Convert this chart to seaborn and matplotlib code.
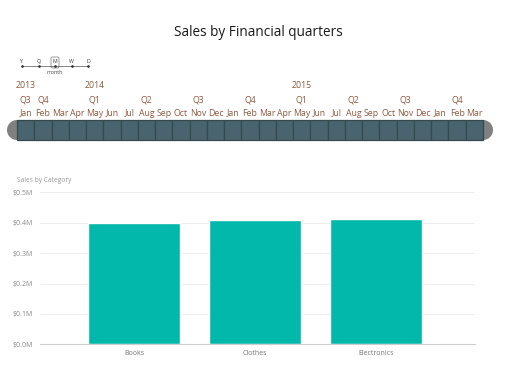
import pandas as pd
import seaborn as sns
import matplotlib.pyplot as plt
from matplotlib.patches import Rectangle, Ellipse, FancyBboxPatch

# Dados
categorias = ['Books', 'Clothes', 'Electronics']
vendas = [0.400, 0.410, 0.4125]  # em milhões
meses = ['Jan', 'Feb', 'Mar', 'Apr', 'May', 'Jun', 'Jul', 'Aug', 'Sep', 'Oct', 'Nov', 'Dec',
         'Jan', 'Feb', 'Mar', 'Apr', 'May', 'Jun', 'Jul', 'Aug', 'Sep', 'Oct', 'Nov', 'Dec',
         'Jan', 'Feb', 'Mar']
trimestres = ['Q3', 'Q4', 'Q1', 'Q2', 'Q3', 'Q4', 'Q1', 'Q2', 'Q3', 'Q4']
trimestres_pos = [0, 1, 4, 7, 10, 13, 16, 19, 22, 25]
anos = ['2013', '2014', '2015']
anos_pos = [0, 4, 16]
granularidade = ['Y', 'Q', 'M', 'W', 'D']
yticks = [0.0, 0.1, 0.2, 0.3, 0.4, 0.5]

sns.set_style('white')
plt.rcParams['font.family'] = ['Open Sans', 'DejaVu Sans']

W, H = 512, 384
fig = plt.figure(figsize=(W / 100, H / 100), dpi=100)

def box(l, t, r, b):
    return [l / W, 1 - b / H, (r - l) / W, (b - t) / H]

# Camada de fundo (coordenadas em pixels)
bg = fig.add_axes([0, 0, 1, 1])
bg.set_xlim(0, W); bg.set_ylim(H, 0); bg.axis('off')
bg.text(258, 33, 'Sales by Financial quarters', ha='center', va='center', fontsize=9.8, color='#1a1a1a')

# Seletor de granularidade
gx = [22, 38.5, 55, 71.5, 88]
bg.plot([gx[0], gx[-1]], [66, 66], color='#555555', lw=0.5)
for x, g in zip(gx, granularidade):
    bg.plot([x], [66], marker='o', ms=0.9, color='#333333')
    bg.text(x, 61.5, g, ha='center', va='center', fontsize=3.8, color='#333333')
bg.add_patch(FancyBboxPatch((51, 57), 8, 11, boxstyle='round,pad=0,rounding_size=1.5',
                            fill=False, ec='#888888', lw=0.6))
bg.text(55, 73, 'month', ha='center', va='center', fontsize=3.8, color='#444444')

# Linha do tempo
tl = fig.add_axes(box(17, 80, 483, 140))
n = len(meses)
tl.set_xlim(0, n); tl.set_ylim(0, 3); tl.axis('off')
for xc in (0, n):
    tl.add_patch(Ellipse((xc, 0.5), 1.16, 1.0, color='#808080', lw=0, clip_on=False))
for i, m in enumerate(meses):
    tl.add_patch(Rectangle((i, 0), 1, 1, fc='#49646e', ec='#36494f', lw=0.9, clip_on=False))
    tl.text(i + 0.5, 1.35, m, ha='center', va='center', fontsize=6.3, color='#8c5a40', clip_on=False)
for q, p in zip(trimestres, trimestres_pos):
    tl.text(p + 0.5, 2.0, q, ha='center', va='center', fontsize=6.3, color='#8c5a40', clip_on=False)
for a, p in zip(anos, anos_pos):
    tl.text(p + 0.5, 2.7, a, ha='center', va='center', fontsize=6.3, color='#8c5a40', clip_on=False)

# Gráfico de barras
ax = fig.add_axes(box(40, 192.3, 475, 344.3))
df = pd.DataFrame({'categoria': categorias, 'vendas': vendas})
sns.barplot(data=df, x='categoria', y='vendas', color='#01B8AA', saturation=1, width=0.76, ax=ax)
ax.set_xlim(-0.78, 2.82)
ax.set_ylim(0, 0.5)
ax.set_yticks(yticks)
ax.set_yticklabels([f'${v:.1f}M' for v in yticks], fontsize=5, color='#888888')
ax.tick_params(axis='x', labelsize=5, colors='#777777', length=0, pad=4)
ax.tick_params(axis='y', length=0, pad=5)
ax.grid(axis='y', color='#eeeeee', lw=0.7)
ax.set_axisbelow(True)
for s in ['top', 'right', 'left']:
    ax.spines[s].set_visible(False)
ax.spines['bottom'].set_color('#cccccc')
ax.spines['bottom'].set_linewidth(0.8)
ax.set_xlabel(''); ax.set_ylabel('')
bg.text(17, 181, 'Sales by Category', ha='left', va='center', fontsize=4.8, color='#999999')

fig.savefig('out.png', dpi=100)
